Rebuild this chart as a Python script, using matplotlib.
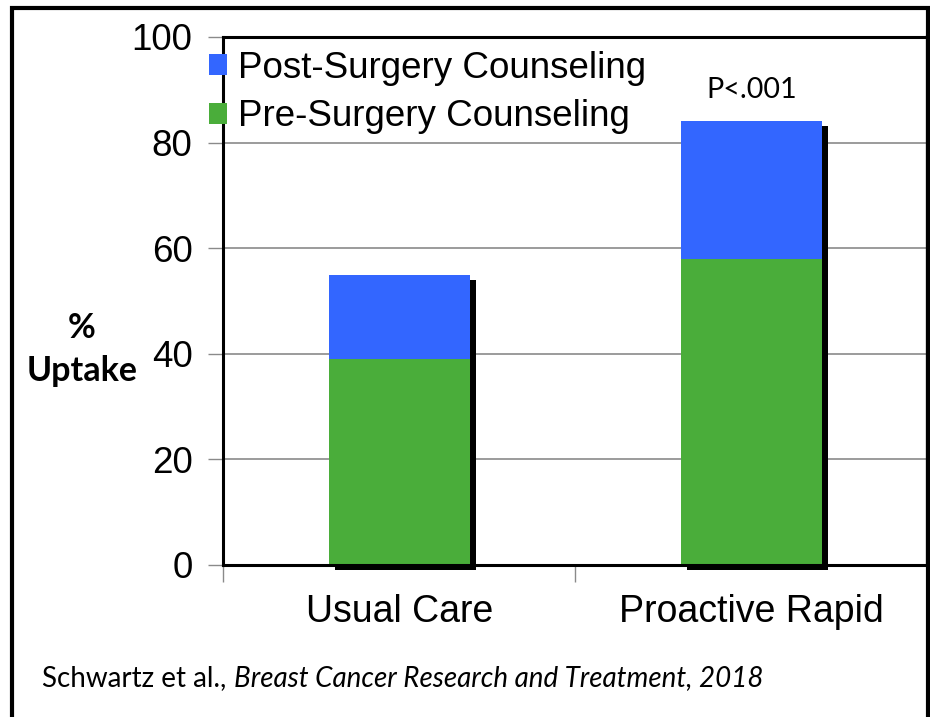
import matplotlib
matplotlib.use('Agg')
import matplotlib.pyplot as plt
from matplotlib.patches import Rectangle
from matplotlib.transforms import ScaledTranslation

# Uptake by study arm (%)
groups = ['Usual Care', 'Proactive Rapid']
pre_surgery = [39, 58]
post_surgery = [16, 26]
y_ticks = [0, 20, 40, 60, 80, 100]

blue = '#3366ff'
green = '#4aad3a'
grid_grey = '#8a8a8a'

fig = plt.figure(figsize=(9.3, 7.17), dpi=100)
ax = fig.add_axes([0.2398, 0.2120, 0.7580, 0.7364])

x = list(range(len(groups)))
totals = [a + b for a, b in zip(pre_surgery, post_surgery)]
width = 0.4

# drop shadow behind each stacked bar
shadow = ax.bar(x, totals, width, color='black', zorder=1.5)
shift = ScaledTranslation(6 / 100, -5 / 100, fig.dpi_scale_trans)
for p in shadow:
    p.set_transform(ax.transData + shift)
    p.set_clip_on(False)

ax.bar(x, pre_surgery, width, color=green, zorder=2, label='Pre-Surgery Counseling')
ax.bar(x, post_surgery, width, bottom=pre_surgery, color=blue, zorder=2,
       label='Post-Surgery Counseling')

ax.set_xlim(-0.5, len(groups) - 0.5)
ax.set_ylim(0, 100)
ax.set_yticks(y_ticks)
ax.set_yticklabels([str(v) for v in y_ticks], fontsize=26.5, family='Liberation Sans')
ax.set_xticks(x)
ax.set_xticklabels(groups, fontsize=27, family='Liberation Sans')
ax.set_xticks([-0.5, 0.5, 1.5], minor=True)
ax.tick_params(axis='x', which='major', length=0, pad=21)
ax.tick_params(axis='x', which='minor', length=12, width=1, color=grid_grey, direction='out')
ax.tick_params(axis='y', length=11, width=1, color=grid_grey, pad=11)

ax.yaxis.grid(True, color=grid_grey, linewidth=1.2)
ax.set_axisbelow(True)
for side in ['left', 'top', 'bottom']:
    ax.spines[side].set_linewidth(2.2)
ax.spines['right'].set_linewidth(3)

# legend: Post listed first
h, l = ax.get_legend_handles_labels()
leg = ax.legend(h[::-1], l[::-1], loc='upper left', bbox_to_anchor=(209 / 930, 1 - 51 / 717),
                bbox_transform=fig.transFigure, frameon=False,
                prop={'family': 'Liberation Sans', 'size': 26.5},
                handlelength=0.5, handleheight=0.5, handletextpad=0.28,
                labelspacing=0.36, borderaxespad=0, borderpad=0)

ax.text(1, 90, 'P<.001', ha='center', va='center', fontsize=20.6, family='Lato')

fig.text(82 / 930, 1 - 328 / 717, '%', ha='center', va='center',
         fontsize=24.5, fontweight='bold', family='Lato')
fig.text(82 / 930, 1 - 371 / 717, 'Uptake', ha='center', va='center',
         fontsize=24.5, fontweight='bold', family='Lato')

t1 = fig.text(42 / 930, 1 - 686 / 717, 'Schwartz et al., ', ha='left', va='baseline',
              fontsize=20, family='Lato')
fig.canvas.draw()
bb = t1.get_window_extent()
fig.text(bb.x1 / 930, 1 - 686 / 717, 'Breast Cancer Research and Treatment, 2018',
         ha='left', va='baseline', fontsize=20, family='Lato', style='italic')

# outer frame round the slide
fig.patches.append(Rectangle((12 / 930, -0.05), 916 / 930, 1.05 - 8 / 717,
                             transform=fig.transFigure, fill=False,
                             edgecolor='black', linewidth=3))

fig.savefig('out.png', dpi=100)
